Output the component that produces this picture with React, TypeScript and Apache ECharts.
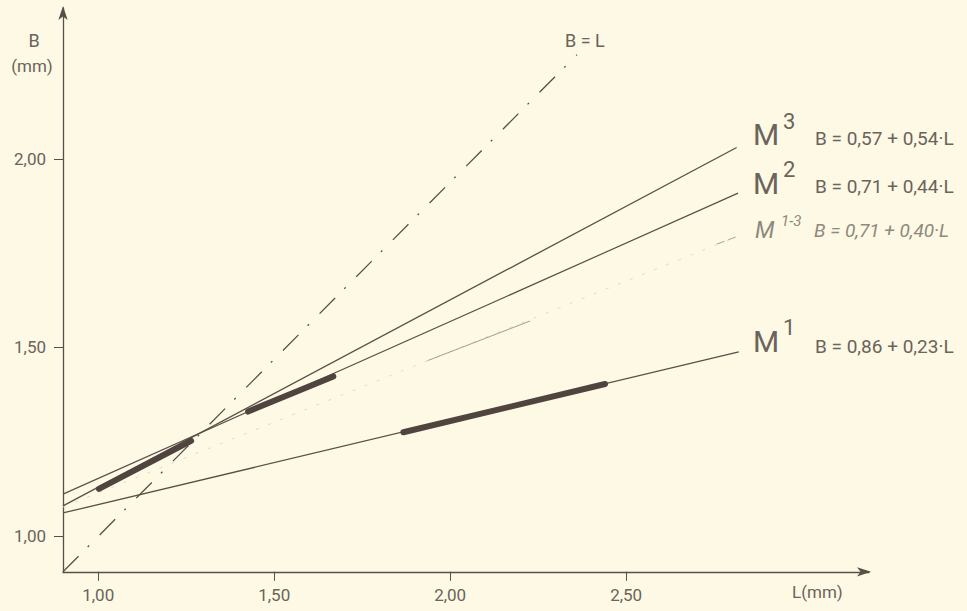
import React, { useEffect, useRef } from "react";
import * as echarts from "echarts";

// Axis ticks (mm)
const xTicks = [1.0, 1.5, 2.0, 2.5];
const yTicks = [1.0, 1.5, 2.0];

// Regression lines [L, B]
const lineM3 = [[0.90, 1.080], [2.814, 2.030]];
const lineM2 = [[0.90, 1.111], [2.818, 1.909]];
const lineM1 = [[0.90, 1.061], [2.820, 1.488]];
const lineM13 = [[0.90, 1.077], [2.815, 1.794]];
const lineM13Solid = [[1.936, 1.465], [2.227, 1.570]];
const lineM13End = [[2.758, 1.774], [2.815, 1.794]];
// Observed ranges (thick parts)
const thickM3 = [[1.002, 1.125], [1.264, 1.252]];
const thickM2 = [[1.426, 1.330], [1.668, 1.423]];
const thickM1 = [[1.867, 1.275], [2.440, 1.403]];
// B = L reference line
const lineBL = [[0.90, 0.905], [2.360, 2.276]];

// Right-hand labels
const labelNames = ["M", "M", "M", "M"];
const labelSups = ["3", "2", "1-3", "1"];
const labelFormulas = [
  "B = 0,57 + 0,54·L",
  "B = 0,71 + 0,44·L",
  "B = 0,71 + 0,40·L",
  "B = 0,86 + 0,23·L",
];

const FONT = "Roboto, 'DejaVu Sans', sans-serif";
const INK = "#5a4f48";
const TEXT = "#6b635c";
const FAINT = "#8f887f";

const fmt = (v: number) => v.toFixed(2).replace(".", ",");

export default function App() {
  const ref = useRef<HTMLDivElement>(null);

  useEffect(() => {
    if (!ref.current) return;
    const chart = echarts.init(ref.current, undefined, { renderer: "svg" });

    const lineSeries = (data: number[][], lineStyle: any, z = 2) => ({
      type: "line",
      data,
      showSymbol: false,
      symbol: "none",
      silent: true,
      z,
      lineStyle,
    });

    const mLayout = [
      { mx: 753, my: 134, sx: 783, sy: 121, fx: 815, fy: 138, italic: false, color: TEXT, mSize: 30, sSize: 22 },
      { mx: 753, my: 183, sx: 783, sy: 169, fx: 815, fy: 186.5, italic: false, color: TEXT, mSize: 30, sSize: 22 },
      { mx: 755, my: 230, sx: 781, sy: 221, fx: 814, fy: 230.5, italic: true, color: FAINT, mSize: 23, sSize: 15 },
      { mx: 753, my: 341, sx: 783, sy: 327, fx: 815, fy: 346, italic: false, color: TEXT, mSize: 30, sSize: 22 },
    ];

    const graphics: any[] = [];
    labelNames.forEach((n, i) => {
      const p = mLayout[i];
      const it = p.italic ? "italic " : "";
      graphics.push({
        type: "text", x: p.mx, y: p.my, silent: true,
        style: { text: n, font: `${it}${p.mSize}px ${FONT}`, fill: p.color, align: "left", verticalAlign: "middle" },
      });
      graphics.push({
        type: "text", x: p.sx, y: p.sy, silent: true,
        style: { text: labelSups[i], font: `${it}${p.sSize}px ${FONT}`, fill: p.color, align: "left", verticalAlign: "middle" },
      });
      graphics.push({
        type: "text", x: p.fx, y: p.fy, silent: true,
        style: { text: labelFormulas[i], font: `${it}19px ${FONT}`, fill: p.color, align: "left", verticalAlign: "middle" },
      });
    });
    graphics.push(
      { type: "text", x: 34, y: 40, silent: true, style: { text: "B", font: `18px ${FONT}`, fill: TEXT, align: "center", verticalAlign: "middle" } },
      { type: "text", x: 32, y: 66, silent: true, style: { text: "(mm)", font: `17px ${FONT}`, fill: TEXT, align: "center", verticalAlign: "middle" } },
      { type: "text", x: 565, y: 40, silent: true, style: { text: "B = L", font: `18px ${FONT}`, fill: TEXT, align: "left", verticalAlign: "middle" } },
      { type: "text", x: 792, y: 592, silent: true, style: { text: "L(mm)", font: `17px ${FONT}`, fill: TEXT, align: "left", verticalAlign: "middle" } }
    );

    const axisCommon = {
      type: "value",
      splitLine: { show: false },
      axisLine: {
        show: true,
        onZero: false,
        symbol: ["none", "arrow"],
        symbolSize: [7, 14],
        symbolOffset: [0, 2],
        lineStyle: { color: INK, width: 1.3 },
      },
      axisTick: { show: true, length: 9, lineStyle: { color: INK, width: 1 } },
    };

    chart.setOption({
      animation: false,
      backgroundColor: "#fdf9e4",
      grid: { left: 63, right: 98, top: 8, bottom: 39.2, containLabel: false },
      xAxis: {
        ...axisCommon,
        min: 0.9,
        max: 3.19,
        axisTick: { ...axisCommon.axisTick, customValues: xTicks },
        axisLabel: {
          customValues: xTicks,
          formatter: (v: number) => fmt(v),
          color: TEXT,
          fontFamily: FONT,
          fontSize: 17,
          margin: 15,
        },
      },
      yAxis: {
        ...axisCommon,
        min: 0.905,
        max: 2.4,
        axisTick: { ...axisCommon.axisTick, customValues: yTicks },
        axisLabel: {
          customValues: yTicks,
          formatter: (v: number) => fmt(v),
          color: TEXT,
          fontFamily: FONT,
          fontSize: 17,
          margin: 17,
        },
      },
      series: [
        lineSeries(lineM13, { color: "#e2dac5", width: 1, type: [3, 10] }, 1),
        lineSeries(lineM13Solid, { color: "#a49c91", width: 1 }, 1),
        lineSeries(lineM13End, { color: "#a9a296", width: 1, type: [8, 4] }, 1),
        lineSeries(lineBL, { color: INK, width: 1.3, type: [22, 13, 2, 15] }, 2),
        lineSeries(lineM3, { color: INK, width: 1.3 }, 3),
        lineSeries(lineM2, { color: INK, width: 1.2 }, 3),
        lineSeries(lineM1, { color: INK, width: 1.3 }, 3),
        lineSeries(thickM3, { color: "#4f443e", width: 6, cap: "round" }, 4),
        lineSeries(thickM2, { color: "#4f443e", width: 6, cap: "round" }, 4),
        lineSeries(thickM1, { color: "#4f443e", width: 6, cap: "round" }, 4),
      ],
      graphic: graphics,
    });

    return () => chart.dispose();
  }, []);

  return (
    <div
      ref={ref}
      style={{ position: "fixed", left: 0, top: 0, width: 967, height: 611 }}
    />
  );
}
